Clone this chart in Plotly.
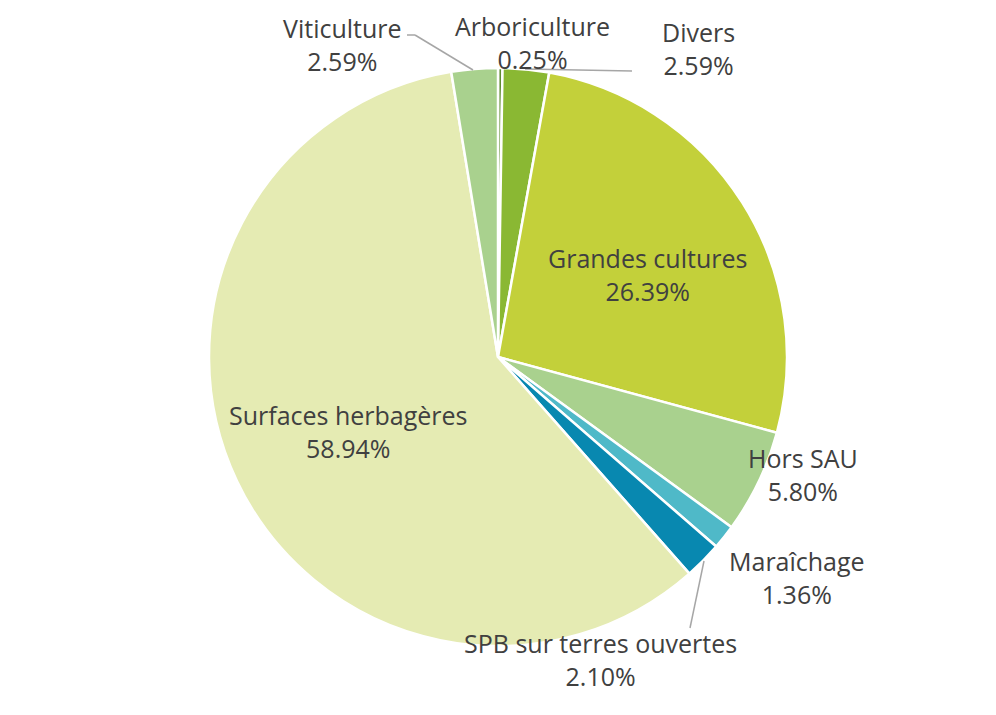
import plotly.graph_objects as go

labels = ["Arboriculture", "Divers", "Grandes cultures", "Hors SAU", "Maraîchage",
          "SPB sur terres ouvertes", "Surfaces herbagères", "Viticulture"]
values = [0.25, 2.59, 26.39, 5.80, 1.36, 2.10, 58.94, 2.59]
colors = ["#5E8C31", "#8AB833", "#C3D03A", "#A9D18E", "#4FB9C8", "#0888B0", "#E5EBB3", "#A9D18E"]

W, H = 996, 715
OFF = 8  # page body margin in the browser
# label centres in page pixels (layout)
label_pos = {
    "Viticulture": (342, 45),
    "Arboriculture": (532, 42),
    "Divers": (698, 49),
    "Grandes cultures": (647, 275),
    "Hors SAU": (803, 474),
    "Maraîchage": (797, 577),
    "SPB sur terres ouvertes": (600, 659),
    "Surfaces herbagères": (348, 431),
}
leaders = [
    [(407, 35), (415, 35), (473, 70)],
    [(525, 69), (632, 71)],
    [(704, 561), (690, 628)],
]

def px(x, y):
    return (x - OFF) / W, 1 - (y - OFF) / H

x0d, y1d = px(209, 68)
x1d, y0d = px(787, 646)

fig = go.Figure(go.Pie(
    labels=labels, values=values, sort=False, direction="clockwise", rotation=0,
    marker=dict(colors=colors, line=dict(color="white", width=2.5)),
    textinfo="none", hoverinfo="label+percent", showlegend=False,
    domain=dict(x=[x0d, x1d], y=[y0d, y1d]),
))

annotations = []
for lab, val in zip(labels, values):
    x, y = px(*label_pos[lab])
    annotations.append(dict(x=x, y=y, xref="paper", yref="paper", showarrow=False,
                            xanchor="center", yanchor="middle",
                            text=f"{lab}<br>{val:.2f}%", align="center",
                            font=dict(size=25, color="#404040", family="Open Sans")))

shapes = []
for pts in leaders:
    for (xa, ya), (xb, yb) in zip(pts[:-1], pts[1:]):
        a0, b0 = px(xa, ya)
        a1, b1 = px(xb, yb)
        shapes.append(dict(type="line", xref="paper", yref="paper", x0=a0, y0=b0, x1=a1, y1=b1,
                           line=dict(color="#A6A6A6", width=1.5)))

fig.update_layout(width=W, height=H, margin=dict(l=0, r=0, t=0, b=0),
                  paper_bgcolor="white", plot_bgcolor="white",
                  annotations=annotations, shapes=shapes)
fig.write_html("out.html")
